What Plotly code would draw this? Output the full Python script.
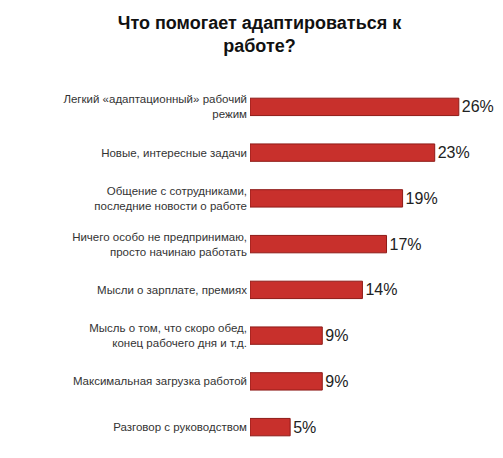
import plotly.graph_objects as go

labels = [
    "Легкий «адаптационный» рабочий<br>режим",
    "Новые, интересные задачи",
    "Общение с сотрудниками,<br>последние новости о работе",
    "Ничего особо не предпринимаю,<br>просто начинаю работать",
    "Мысли о зарплате, премиях",
    "Мысль о том, что скоро обед,<br>конец рабочего дня и т.д.",
    "Максимальная загрузка работой",
    "Разговор с руководством",
]
values = [26, 23, 19, 17, 14, 9, 9, 5]

fig = go.Figure(go.Bar(
    x=values, y=labels, orientation="h", width=0.38,
    marker=dict(color="#c8302c", line=dict(color="#8e1a17", width=1)),
    text=[f"{v}%" for v in values], textposition="outside",
    textfont=dict(size=16, color="#222"), cliponaxis=False,
))

fig.update_layout(
    width=503, height=458, paper_bgcolor="white", plot_bgcolor="white",
    margin=dict(l=242, r=0, t=76, b=16),
    title=dict(text="<b>Что помогает адаптироваться к<br>работе?</b>",
               x=0.5, xanchor="center", y=0.955, yanchor="top",
               font=dict(size=18, color="#111", family="Liberation Sans")),
    font=dict(family="Liberation Sans", size=11.5, color="#333"),
    showlegend=False,
)
fig.update_xaxes(range=[0, 32.5], visible=False)
fig.update_yaxes(autorange="reversed", showline=False, showgrid=False,
                 ticks="", ticklabelstandoff=2, automargin=False)

fig.write_html("out.html")
